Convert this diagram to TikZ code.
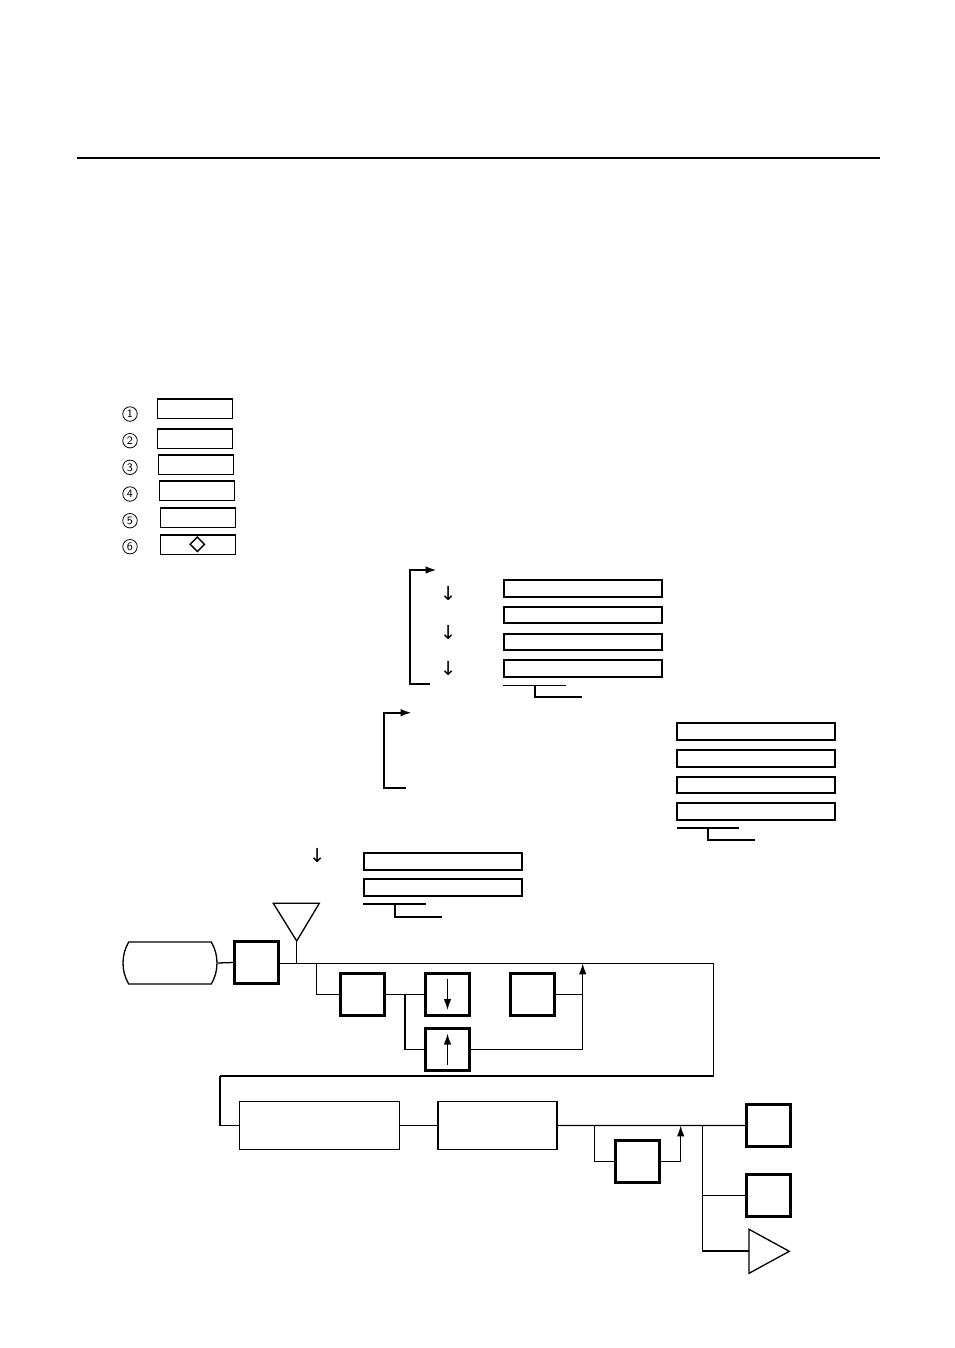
\documentclass[tikz,border=0pt]{standalone}
\usepackage{fontspec}
\usepackage{tikz}
\usetikzlibrary{arrows.meta,shapes.geometric,shapes.misc}
\newfontfamily\arrowfont{DejaVu Sans}

\begin{document}
\begin{tikzpicture}[x=0.02cm,y=-0.02cm,line width=0.75pt,
 arr/.style={-{Latex[length=2.2mm,width=1.5mm]}},
 legbox/.style={draw,line width=0.7pt,minimum width=1.485cm,minimum height=0.395cm,inner sep=0pt},
 num/.style={circle,draw,line width=0.45pt,minimum size=0.29cm,inner sep=0pt,font=\sffamily\fontsize{6.5}{6.5}\selectfont},
 barbox/.style={draw,line width=1.1pt,minimum width=3.16cm,minimum height=0.33cm,inner sep=0pt},
 sqbox/.style={draw,line width=1.7pt,minimum width=0.88cm,minimum height=0.84cm,inner sep=0pt},
 wbox/.style={draw,line width=0.9pt,minimum height=0.96cm,inner sep=0pt},
 down/.style={font=\arrowfont\fontsize{11}{11}\selectfont,inner sep=0pt}]
\useasboundingbox (0,0) rectangle (954,1348);
\draw[line width=1.6pt] (77,158) -- (880,158);

% legend
\node [num] (n1) at (130,414) {1};
\node [num] (n2) at (130,440.7) {2};
\node [num] (n3) at (130,467.3) {3};
\node [num] (n4) at (130,494) {4};
\node [num] (n5) at (130,520.7) {5};
\node [num] (n6) at (130,546.7) {6};
\node [legbox] (l1) at (195,408.8) {};
\node [legbox] (l2) at (195,438.8) {};
\node [legbox] (l3) at (196,464.8) {};
\node [legbox] (l4) at (197,490.8) {};
\node [legbox] (l5) at (198,517.8) {};
\node [legbox] (l6) at (198,544.8) {};
\node [diamond,draw,line width=0.8pt,minimum size=0.3cm,inner sep=0pt] (dia) at (197.3,544.3) {};

% first group
\coordinate (a0) at (430,684);
\coordinate (a1) at (436.7,570);
\draw[arr,line width=1.1pt] (a0) -- (410,684) -- (410,570) -- (a1);
\node [down] (da1) at (448.3,593) {↓};
\node [down] (da2) at (448.3,632) {↓};
\node [down] (da3) at (448.3,668) {↓};
\node [barbox] (a1box) at (583.3,588.5) {};
\node [barbox] (a2box) at (583.3,615.2) {};
\node [barbox] (a3box) at (583.3,641.8) {};
\node [barbox] (a4box) at (583.3,668.5) {};
\draw (503.3,685.3) -- (565.7,685.3);
\draw[line width=1.1pt] (535,685.3) |- (581.7,697.3);

% second group
\coordinate (b0) at (405.7,787.7);
\coordinate (b1) at (411.7,712.7);
\draw[arr,line width=1.1pt] (b0) -- (384,787.7) -- (384,712.7) -- (b1);
\node [barbox] (b1box) at (756.2,731.7) {};
\node [barbox] (b2box) at (756.2,758.3) {};
\node [barbox] (b3box) at (756.2,785) {};
\node [barbox] (b4box) at (756.2,811.7) {};
\draw (676.7,828) -- (739,828);
\draw[line width=1.1pt] (707.7,828) |- (755,840);

% third group
\node [down] (dc1) at (317.3,855.7) {↓};
\node [barbox] (c1box) at (443,861.7) {};
\node [barbox] (c2box) at (443,887.5) {};
\draw (363.3,904) -- (426,904);
\draw[line width=1.1pt] (395,904) |- (441.7,916.7);

% flow, upper row
\node [rounded rectangle,rounded rectangle arc length=60,draw,minimum width=1.88cm,minimum height=0.84cm,inner sep=0pt] (start) at (170,963) {};
\node [sqbox] (s1) at (256.3,962.5) {};
\coordinate (ant) at (296.7,941);
\draw (ant) -- (273.3,903.3) -- (319.3,903.3) -- cycle;
\coordinate (antfoot) at (296.7,963.3);
\coordinate (j1) at (316.7,963.3);
\coordinate (j3) at (582.7,963.3);
\coordinate (ne) at (713.3,963.3);
\coordinate (se) at (713.3,1076);
\coordinate (sw) at (220,1076);
\node [sqbox] (s2) at (362.3,994.6) {};
\node [sqbox] (dn) at (447.5,994.6) {};
\node [sqbox] (up) at (447.5,1049.5) {};
\node [sqbox] (rt) at (532.2,994.6) {};
\coordinate (j2) at (405,994.6);
\coordinate (j4) at (582.7,994.6);

\draw (start.east) -- (s1.west);
\draw (ant) -- (antfoot);
\draw (s1.east |- ne) -- (ne) -- (se) -- (sw);
\draw (j1) |- (s2.west);
\draw (s2.east) -- (dn.west);
\draw (j2) |- (up.west);
\draw[arr] (up.east) -| (j3);
\draw (rt.east) -- (j4);
\draw[arr] ([yshift=0.32cm]dn.center) -- ([yshift=-0.31cm]dn.center);
\draw[arr] ([yshift=-0.31cm]up.center) -- ([yshift=0.32cm]up.center);

% flow, lower row
\node [wbox,minimum width=3.2cm] (b6) at (319.4,1125.4) {};
\node [wbox,minimum width=2.38cm] (b7) at (497.3,1125.4) {};
\node [sqbox] (b8) at (768.8,1125.5) {};
\node [sqbox] (b9) at (637.2,1161.5) {};
\node [sqbox] (b10) at (768.8,1195.5) {};
\coordinate (k1) at (594.3,1125.4);
\coordinate (k2) at (680.7,1125.4);
\coordinate (k3) at (702.3,1125.4);
\coordinate (outtri) at (749,1251);
\draw (outtri) -- (749,1229.3) -- (789.3,1251.3) -- (749,1273.3) -- cycle;

\draw (sw) |- (b6.west);
\draw (b6.east) -- (b7.west);
\draw (b7.east) -- (b8.west);
\draw (k1) |- (b9.west);
\draw[arr] (b9.east) -| (k2);
\draw (k3) |- (b10.west);
\draw (k3) |- (outtri);
\end{tikzpicture}
\end{document}
